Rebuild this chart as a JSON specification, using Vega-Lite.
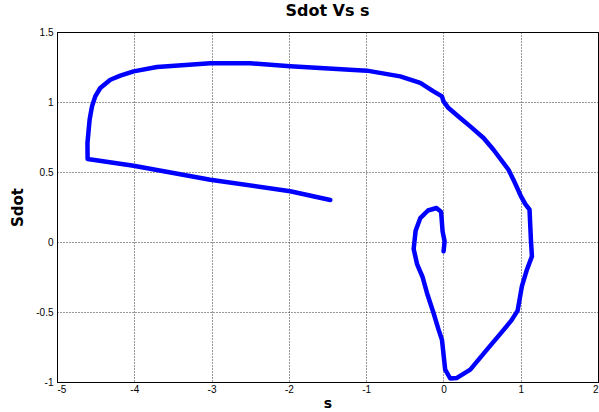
{
  "$schema": "https://vega.github.io/schema/vega-lite/v6.json",
  "width": 541,
  "height": 350,
  "autosize": "none",
  "padding": {"left": 57, "top": 32, "right": 1, "bottom": 30},
  "background": "white",
  "title": {
    "text": "Sdot Vs s",
    "font": "DejaVu Sans",
    "fontSize": 16,
    "fontWeight": "bold",
    "color": "black",
    "offset": 8
  },
  "config": {
    "view": {"stroke": "black", "strokeWidth": 1},
    "axis": {
      "domainColor": "black",
      "grid": true,
      "gridColor": "black",
      "gridDash": [1, 2],
      "gridOpacity": 0.8,
      "ticks": false,
      "labelFont": "Liberation Sans",
      "labelFontSize": 10,
      "labelColor": "black",
      "titleFont": "DejaVu Sans",
      "titleFontWeight": "bold",
      "titleFontSize": 15,
      "titleColor": "black"
    }
  },
  "data": {
    "values": [
      {"i": 1, "s": -1.464, "sdot": 0.300},
      {"i": 2, "s": -1.982, "sdot": 0.362},
      {"i": 3, "s": -3.017, "sdot": 0.445},
      {"i": 4, "s": -4.009, "sdot": 0.545},
      {"i": 5, "s": -4.604, "sdot": 0.593},
      {"i": 6, "s": -4.606, "sdot": 0.707},
      {"i": 7, "s": -4.578, "sdot": 0.874},
      {"i": 8, "s": -4.547, "sdot": 0.969},
      {"i": 9, "s": -4.505, "sdot": 1.040},
      {"i": 10, "s": -4.440, "sdot": 1.100},
      {"i": 11, "s": -4.310, "sdot": 1.159},
      {"i": 12, "s": -4.181, "sdot": 1.188},
      {"i": 13, "s": -4.009, "sdot": 1.219},
      {"i": 14, "s": -3.706, "sdot": 1.250},
      {"i": 15, "s": -3.017, "sdot": 1.277},
      {"i": 16, "s": -2.499, "sdot": 1.277},
      {"i": 17, "s": -1.982, "sdot": 1.256},
      {"i": 18, "s": -0.990, "sdot": 1.224},
      {"i": 19, "s": -0.559, "sdot": 1.183},
      {"i": 20, "s": -0.300, "sdot": 1.136},
      {"i": 21, "s": -0.128, "sdot": 1.076},
      {"i": 22, "s": -0.019, "sdot": 1.040},
      {"i": 23, "s": 0.001, "sdot": 1.004},
      {"i": 24, "s": 0.066, "sdot": 0.957},
      {"i": 25, "s": 0.217, "sdot": 0.886},
      {"i": 26, "s": 0.347, "sdot": 0.826},
      {"i": 27, "s": 0.519, "sdot": 0.743},
      {"i": 28, "s": 0.648, "sdot": 0.659},
      {"i": 29, "s": 0.842, "sdot": 0.516},
      {"i": 30, "s": 0.910, "sdot": 0.440},
      {"i": 31, "s": 1.000, "sdot": 0.330},
      {"i": 32, "s": 1.060, "sdot": 0.270},
      {"i": 33, "s": 1.114, "sdot": 0.231},
      {"i": 34, "s": 1.132, "sdot": 0.016},
      {"i": 35, "s": 1.145, "sdot": -0.103},
      {"i": 36, "s": 1.080, "sdot": -0.198},
      {"i": 37, "s": 1.015, "sdot": -0.317},
      {"i": 38, "s": 0.960, "sdot": -0.490},
      {"i": 39, "s": 0.880, "sdot": -0.560},
      {"i": 40, "s": 0.760, "sdot": -0.640},
      {"i": 41, "s": 0.563, "sdot": -0.769},
      {"i": 42, "s": 0.347, "sdot": -0.912},
      {"i": 43, "s": 0.175, "sdot": -0.971},
      {"i": 44, "s": 0.088, "sdot": -0.975},
      {"i": 45, "s": 0.023, "sdot": -0.912},
      {"i": 46, "s": -0.019, "sdot": -0.698},
      {"i": 47, "s": -0.063, "sdot": -0.626},
      {"i": 48, "s": -0.128, "sdot": -0.507},
      {"i": 49, "s": -0.213, "sdot": -0.364},
      {"i": 50, "s": -0.270, "sdot": -0.250},
      {"i": 51, "s": -0.340, "sdot": -0.160},
      {"i": 52, "s": -0.385, "sdot": -0.050},
      {"i": 53, "s": -0.360, "sdot": 0.080},
      {"i": 54, "s": -0.300, "sdot": 0.170},
      {"i": 55, "s": -0.200, "sdot": 0.225},
      {"i": 56, "s": -0.090, "sdot": 0.243},
      {"i": 57, "s": -0.030, "sdot": 0.215},
      {"i": 58, "s": -0.011, "sdot": 0.076},
      {"i": 59, "s": 0.015, "sdot": 0.005},
      {"i": 60, "s": 0.002, "sdot": -0.067}
    ]
  },
  "mark": {"type": "line", "color": "#0000ff", "strokeWidth": 4.5, "strokeJoin": "round", "strokeCap": "round"},
  "encoding": {
    "x": {
      "field": "s",
      "type": "quantitative",
      "scale": {"domain": [-5, 2], "nice": false, "zero": false},
      "axis": {"values": [-5, -4, -3, -2, -1, 0, 1, 2], "labelExpr": "datum.value + ''", "labelPadding": 2, "title": "s", "titlePadding": 2, "titleFontSize": 14}
    },
    "y": {
      "field": "sdot",
      "type": "quantitative",
      "scale": {"domain": [-1, 1.5], "nice": false, "zero": false},
      "axis": {"values": [-1, -0.5, 0, 0.5, 1, 1.5], "labelExpr": "datum.value + ''", "labelPadding": 4, "title": "Sdot", "titlePadding": 10}
    },
    "order": {"field": "i", "type": "quantitative"}
  }
}
